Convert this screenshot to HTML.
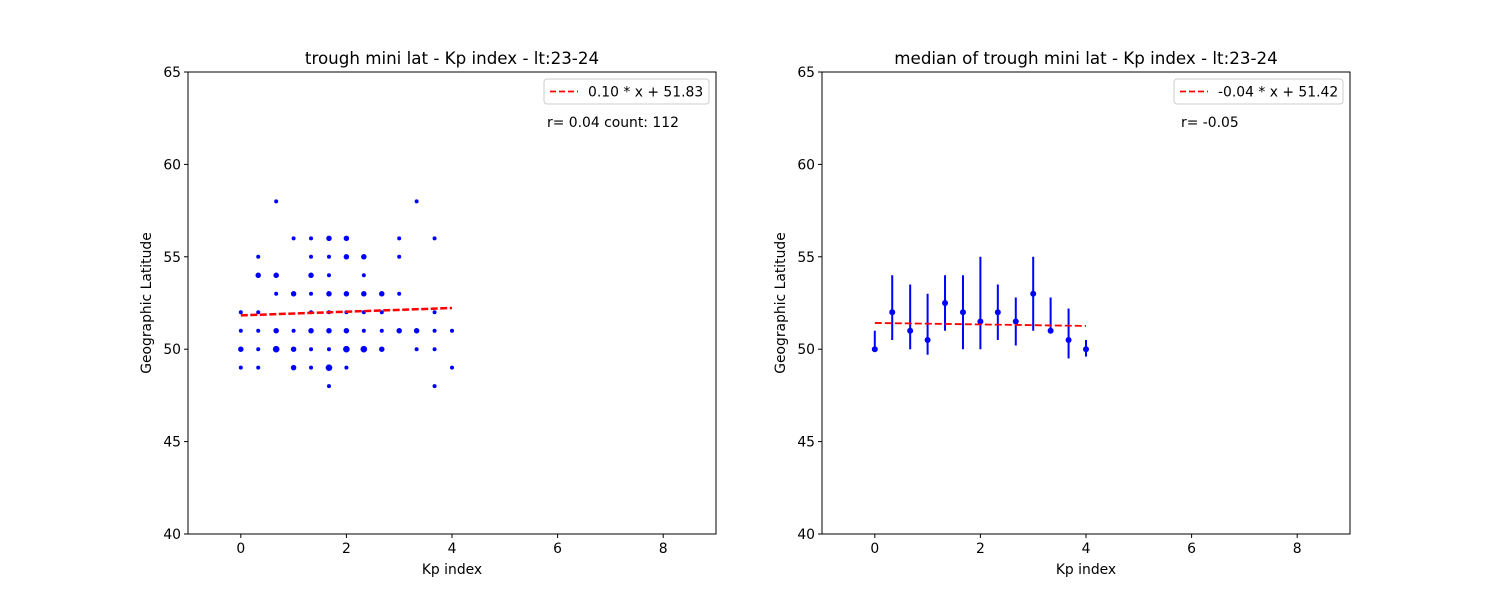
<!DOCTYPE html>
<html><head><meta charset="utf-8"><style>
body{margin:0;background:#fff;}
svg text{font-family:"DejaVu Sans","Liberation Sans",sans-serif;}
</style></head><body>
<svg id="fig" width="1500" height="600" viewBox="0 0 1500 600" xmlns="http://www.w3.org/2000/svg"></svg>
<script>
// Left panel scatter data
const scatterKp = [0.67,3.33, 1,1.33,1.67,2,3,3.67, 0.33,1.33,1.67,2,2.33,3, 0.33,0.67,1.33,1.67,2.33, 0.67,1,1.33,1.67,2,2.33,2.67,3, 0,0.33,1.33,1.67,2,2.33,2.67,3.67, 0,0.33,0.67,1,1.33,1.67,2,2.33,2.67,3,3.33,3.67,4, 0,0.33,0.67,1,1.33,1.67,2,2.33,2.67,3.33,3.67, 0,0.33,1,1.33,1.67,2,4, 1.67,3.67];
const scatterLat = [58,58, 56,56,56,56,56,56, 55,55,55,55,55,55, 54,54,54,54,54, 53,53,53,53,53,53,53,53, 52,52,52,52,52,52,52,52, 51,51,51,51,51,51,51,51,51,51,51,51,51, 50,50,50,50,50,50,50,50,50,50,50, 49,49,49,49,49,49,49, 48,48];
const scatterCount = [1,1, 1,1,2,2,1,1, 1,1,1,2,2,1, 2,2,2,1,1, 1,2,1,2,2,2,2,1, 1,1,1,1,1,1,1,1, 1,1,2,1,2,2,2,1,1,2,2,1,1, 2,1,3,2,1,1,3,3,2,1,1, 1,1,2,1,3,1,1, 1,1];
const fitLeft = {slope:0.10, intercept:51.83};
// Right panel median data
const medKp = [0,0.33,0.67,1,1.33,1.67,2,2.33,2.67,3,3.33,3.67,4];
const medLat = [50,52,51,50.5,52.5,52,51.5,52,51.5,53,51,50.5,50];
const errLow = [50,50.5,50,49.7,51,50,50,50.5,50.2,51,51,49.5,49.6];
const errHigh = [51,54,53.5,53,54,54,55,53.5,52.8,55,52.8,52.2,50.5];
const fitRight = {slope:-0.04, intercept:51.42};
const xTicks = [0,2,4,6,8];
const yTicks = [40,45,50,55,60,65];

const NS="http://www.w3.org/2000/svg";
const svg=document.getElementById('fig');
function mk(tag,attrs,parent){const e=document.createElementNS(NS,tag);for(const k in attrs)e.setAttribute(k,attrs[k]);(parent||svg).appendChild(e);return e;}

function panel(x0,title,name){
  const g=mk('g',{});
  
  
  const W=528,H=462,y0=72;
  const sx=v=>x0+(v+1)/10*W;
  const sy=v=>y0+H-(v-40)/25*H;
  const frame=mk('rect',{x:x0,y:y0,width:W,height:H,fill:'none',stroke:'#000','stroke-width':1},g);
  
  
  xTicks.forEach(t=>{mk('line',{x1:sx(t),x2:sx(t),y1:y0+H,y2:y0+H+4,stroke:'#000'},g);
    const tx=mk('text',{x:sx(t),y:y0+H+19,'font-size':13.9,'text-anchor':'middle'},g);tx.textContent=t;
    
    });
  yTicks.forEach(t=>{mk('line',{x1:x0-4,x2:x0,y1:sy(t),y2:sy(t),stroke:'#000'},g);
    const tx=mk('text',{x:x0-7,y:sy(t)+5,'font-size':13.9,'text-anchor':'end'},g);tx.textContent=t;
    
    });
  const xl=mk('text',{x:x0+W/2,y:574,'font-size':13.9,'text-anchor':'middle'},g);xl.textContent='Kp index';
  
  
  const yl=mk('text',{x:0,y:0,'font-size':13.9,'text-anchor':'middle',transform:`translate(${x0-37},${y0+H/2}) rotate(-90)`},g);yl.textContent='Geographic Latitude';
  
  
  const tt=mk('text',{x:x0+W/2,y:64,'font-size':16.7,'text-anchor':'middle'},g);tt.textContent=title;
  
  
  return {g,sx,sy,x0,W};
}

const L=panel(188,'trough mini lat - Kp index - lt:23-24','left-panel');
scatterKp.forEach((k,i)=>{const c=mk('circle',{cx:L.sx(k),cy:L.sy(scatterLat[i]),r:1.8*Math.sqrt(scatterCount[i])+0.2,fill:'#0000ff'},L.g);
  
  });
const fl=mk('line',{x1:L.sx(0),y1:L.sy(fitLeft.intercept),x2:L.sx(4),y2:L.sy(fitLeft.intercept+fitLeft.slope*4),stroke:'#ff0000','stroke-width':2.5,'stroke-dasharray':'7,2.5'},L.g);



const R=panel(822,'median of trough mini lat - Kp index - lt:23-24','right-panel');
medKp.forEach((k,i)=>{
  const e=mk('line',{x1:R.sx(k),x2:R.sx(k),y1:R.sy(errLow[i]),y2:R.sy(errHigh[i]),stroke:'#0000ff','stroke-width':2},R.g);
  
  
  const c=mk('circle',{cx:R.sx(k),cy:R.sy(medLat[i]),r:3,fill:'#0000ff'},R.g);
  
  
});
const fr=mk('line',{x1:R.sx(0),y1:R.sy(fitRight.intercept),x2:R.sx(4),y2:R.sy(fitRight.intercept+fitRight.slope*4),stroke:'#ff0000','stroke-width':1.8,'stroke-dasharray':'7,3'},R.g);



function legend(p,lx,w,label,note){
  const lg=mk('g',{},p.g);
  
  
  mk('rect',{x:lx,y:79,width:w,height:25,rx:3,fill:'#fff',stroke:'#ccc'},lg);
  mk('line',{x1:lx+6,x2:lx+34,y1:91.5,y2:91.5,stroke:'#ff0000','stroke-width':1.8,'stroke-dasharray':'6,3'},lg);
  const t=mk('text',{x:lx+44,y:96.5,'font-size':13.9},lg);t.textContent=label;
  
  
  const n=mk('text',{x:note[0],y:127,'font-size':13.9},p.g);n.textContent=note[1];
  
  
}
legend(L,544,165,'0.10 * x + 51.83',[547,'r= 0.04 count: 112']);
legend(R,1174,169,'-0.04 * x + 51.42',[1181,'r= -0.05']);
</script>
</body></html>
